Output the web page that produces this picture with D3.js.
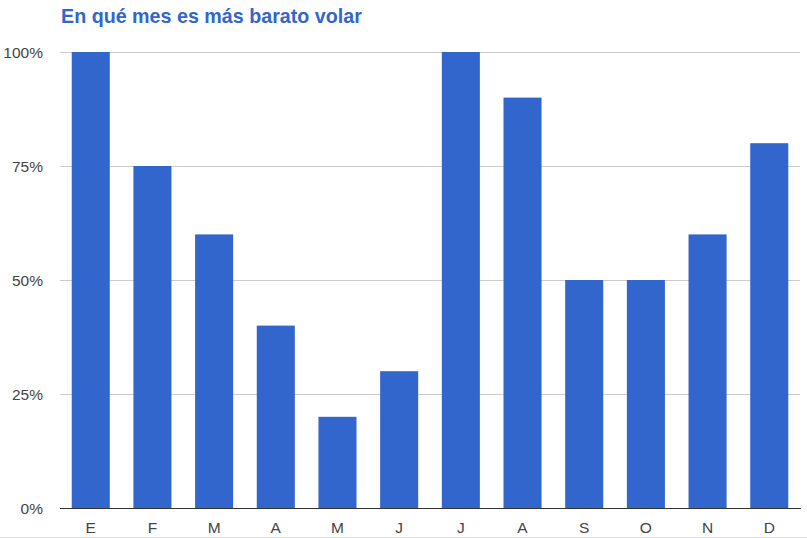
<!DOCTYPE html>
<html>
<head>
<meta charset="utf-8">
<script src="https://cdn.jsdelivr.net/npm/d3@7"></script>
<style>
  body { margin: 0; background: #fff; }
  text { font-family: Arial, "Liberation Sans", sans-serif; }
</style>
</head>
<body>
<svg id="chart" width="807" height="538"></svg>
<script>
const months = ['E', 'F', 'M', 'A', 'M', 'J', 'J', 'A', 'S', 'O', 'N', 'D']
const values = [100, 75, 60, 40, 20, 30, 100, 90, 50, 50, 60, 80]
const yTicks = [0, 25, 50, 75, 100]

const width = 807, height = 538
const svg = d3.select('#chart')

const x = d3.scaleBand().domain(d3.range(months.length)).range([60, 800]).paddingInner(0.383).paddingOuter(0.19)
const y = d3.scaleLinear().domain([0, 100]).range([508, 52])

// title
svg.append('text')
   .attr('x', 61).attr('y', 23)
   .attr('fill', '#3366cc')
   .style('font-size', '19.7px').style('font-weight', 'bold')
   .text('En qué mes es más barato volar')

// gridlines
svg.append('g').selectAll('line').data(yTicks.filter(d => d > 0)).enter().append('line')
   .attr('x1', 60).attr('x2', 800)
   .attr('y1', d => y(d)).attr('y2', d => y(d))
   .attr('stroke', '#cccccc').attr('stroke-width', 1)
   .attr('shape-rendering', 'crispEdges')

// y labels
svg.append('g').selectAll('text').data(yTicks).enter().append('text')
   .attr('x', 43).attr('y', d => y(d) + 6)
   .attr('text-anchor', 'end')
   .attr('fill', '#444444')
   .style('font-size', '15.5px')
   .text(d => d + '%')

// bars
svg.append('g').selectAll('rect').data(values).enter().append('rect')
   .attr('x', (d, i) => x(i))
   .attr('width', x.bandwidth())
   .attr('y', d => y(d))
   .attr('height', d => y(0) - y(d))
   .attr('fill', '#3366cc')

// baseline
svg.append('line')
   .attr('x1', 60).attr('x2', 801)
   .attr('y1', y(0)).attr('y2', y(0))
   .attr('stroke', '#333333').attr('stroke-width', 1)
   .attr('shape-rendering', 'crispEdges')

// x labels
svg.append('g').selectAll('text').data(months).enter().append('text')
   .attr('x', (d, i) => x(i) + x.bandwidth() / 2)
   .attr('y', 533)
   .attr('text-anchor', 'middle')
   .attr('fill', '#444444')
   .style('font-size', '15.5px')
   .text(d => d)

// bottom border
svg.append('line')
   .attr('x1', 0).attr('x2', width)
   .attr('y1', 537).attr('y2', 537)
   .attr('stroke', '#dddddd').attr('stroke-width', 1)
   .attr('shape-rendering', 'crispEdges')
</script>
</body>
</html>
